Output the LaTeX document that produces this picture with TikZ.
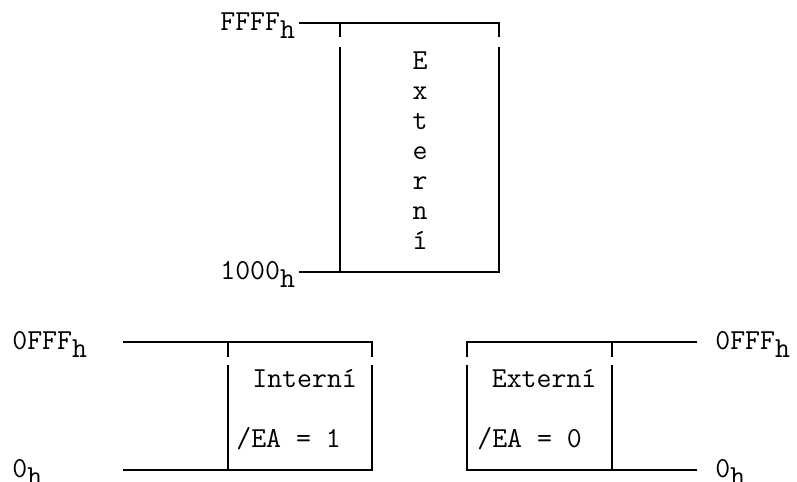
\documentclass[tikz,border=0pt]{standalone}
\usepackage{fontspec}
\newcommand{\hsub}{\raisebox{-0.27em}{h}}

\begin{document}
\begin{tikzpicture}[x=0.02cm, y=-0.02cm,
    wall/.style = {line width=1.1pt},
    lbl/.style = {anchor=base west, inner sep=0pt},
    every node/.style = {font=\ttfamily\fontsize{16.5}{19}\selectfont}]
        \useasboundingbox (0,0) rectangle (797,481);

        % upper block 1000h .. FFFFh
        \coordinate (ffff) at (299,23);
        \coordinate (tl) at (340,23);
        \coordinate (tr) at (499,23);
        \coordinate (low) at (299,272);
        \coordinate (bl) at (340,272);
        \coordinate (br) at (499,272);

        \draw [wall] (ffff) -- (tr) -- ++(0,14);
        \draw [wall] (tl) -- ++(0,14);
        \draw [wall] (low) -- (br) -- ++(0,-225);
        \draw [wall] (bl) -- ++(0,-225);

        \node (ffffh) at (220,30.5) [lbl] {FFFF\hsub};
        \node (lowh) at (220,279.5) [lbl] {1000\hsub};
        \foreach \ch [count=\i] in {E,x,t,e,r,n,í}
            \node (ext\i) at (420,39+30*\i) [anchor = base, inner sep=0pt] {\ch};

        % lower left: internal
        \coordinate (la) at (123,342);
        \coordinate (lb) at (228,342);
        \coordinate (lc) at (372,342);
        \coordinate (ld) at (123,470);
        \coordinate (le) at (228,470);
        \coordinate (lf) at (372,470);

        \draw [wall] (la) -- (lc) -- ++(0,15);
        \draw [wall] (lb) -- ++(0,15);
        \draw [wall] (ld) -- (lf) -- ++(0,-105);
        \draw [wall] (le) -- ++(0,-105);

        \node (lfff) at (12,349.5) [lbl] {0FFF\hsub};
        \node (lzero) at (12,477.5) [lbl] {0\hsub};
        \node (intern) at (252,387.3) [lbl] {Interní};
        \node (eaone) at (236,447.3) [lbl] {/EA = 1};

        % lower right: external
        \coordinate (ra) at (467,342);
        \coordinate (rb) at (612,342);
        \coordinate (rc) at (697,342);
        \coordinate (rd) at (467,470);
        \coordinate (re) at (612,470);
        \coordinate (rf) at (697,470);

        \draw [wall] (rc) -- (ra) -- ++(0,15);
        \draw [wall] (rb) -- ++(0,15);
        \draw [wall] (rf) -- (rd) -- ++(0,-105);
        \draw [wall] (re) -- ++(0,-105);

        \node (rfff) at (715,349.5) [lbl] {0FFF\hsub};
        \node (rzero) at (715,477.5) [lbl] {0\hsub};
        \node (extern) at (491.5,387.3) [lbl] {Externí};
        \node (eazero) at (477,447.3) [lbl] {/EA = 0};
    \end{tikzpicture}
\end{document}
